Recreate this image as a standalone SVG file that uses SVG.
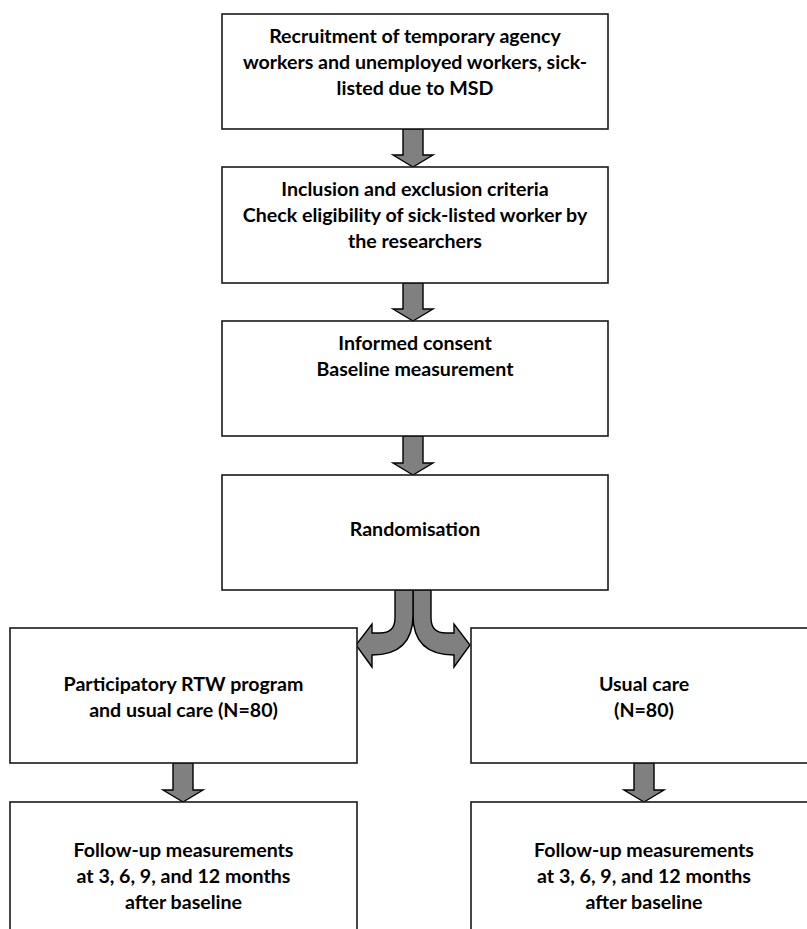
<svg xmlns="http://www.w3.org/2000/svg" width="807" height="929" viewBox="0 0 807 929">
<style>
.box{fill:#fff;stroke:#1a1a1a;stroke-width:1.6}
.arr{fill:#808080;stroke:#000;stroke-width:1.4;stroke-linejoin:miter}
text{font-family:Lato,"Open Sans","Liberation Sans",sans-serif;font-weight:bold;font-size:19.6px;fill:#000;text-anchor:middle}
</style>
<rect width="807" height="929" fill="#fff"/>
<g id="connectors">
<path class="arr" d="M403,129 L423,129 L423,155 L433,155 L413,167 L393,155 L403,155 Z"/>
<path class="arr" d="M403,283 L423,283 L423,309 L433,309 L413,321 L393,309 L403,309 Z"/>
<path class="arr" d="M403,436 L423,436 L423,463 L433,463 L413,475 L393,463 L403,463 Z"/>
<path class="arr" d="M413,590 L413,615 Q413,655 454,655 L454,667 L470,645 L454,624 L454,633 L446,633 Q431,633 431,618 L431,590 Z"/>
<path class="arr" d="M413,590 L413,615 Q413,655 372,655 L372,667 L356,645 L372,624 L372,633 L380,633 Q395,633 395,618 L395,590 Z"/>
<path class="arr" d="M173,763 L193,763 L193,790 L203,790 L183,802 L163,790 L173,790 Z"/>
<path class="arr" d="M634,763 L654,763 L654,790 L664,790 L644,802 L624,790 L634,790 Z"/>
</g>
<g id="n1">
<rect class="box" x="222" y="14" width="386" height="115"/>
<text x="415" y="43">Recruitment of temporary agency</text>
<text x="415" y="69">workers and unemployed workers, sick-</text>
<text x="415" y="95">listed due to MSD</text>
</g>
<g id="n2">
<rect class="box" x="222" y="167" width="386" height="116"/>
<text x="415" y="196">Inclusion and exclusion criteria</text>
<text x="415" y="222">Check eligibility of sick-listed worker by</text>
<text x="415" y="248">the researchers</text>
</g>
<g id="n3">
<rect class="box" x="222" y="321" width="386" height="115"/>
<text x="415" y="350">Informed consent</text>
<text x="415" y="376">Baseline measurement</text>
</g>
<g id="n4">
<rect class="box" x="222" y="475" width="386" height="115"/>
<text x="415" y="536">Randomisation</text>
</g>
<g id="n5">
<rect class="box" x="10" y="628" width="347" height="135"/>
<text x="183.5" y="691">Participatory RTW program</text>
<text x="183.5" y="717">and usual care (N=80)</text>
</g>
<g id="n6">
<rect class="box" x="471" y="628" width="348" height="135"/>
<text x="644" y="691">Usual care</text>
<text x="644" y="717">(N=80)</text>
</g>
<g id="n7">
<rect class="box" x="10" y="802" width="347" height="140"/>
<text x="183.5" y="857">Follow-up measurements</text>
<text x="183.5" y="883">at 3, 6, 9, and 12 months</text>
<text x="183.5" y="909">after baseline</text>
</g>
<g id="n8">
<rect class="box" x="471" y="802" width="348" height="140"/>
<text x="644" y="857">Follow-up measurements</text>
<text x="644" y="883">at 3, 6, 9, and 12 months</text>
<text x="644" y="909">after baseline</text>
</g>
</svg>
